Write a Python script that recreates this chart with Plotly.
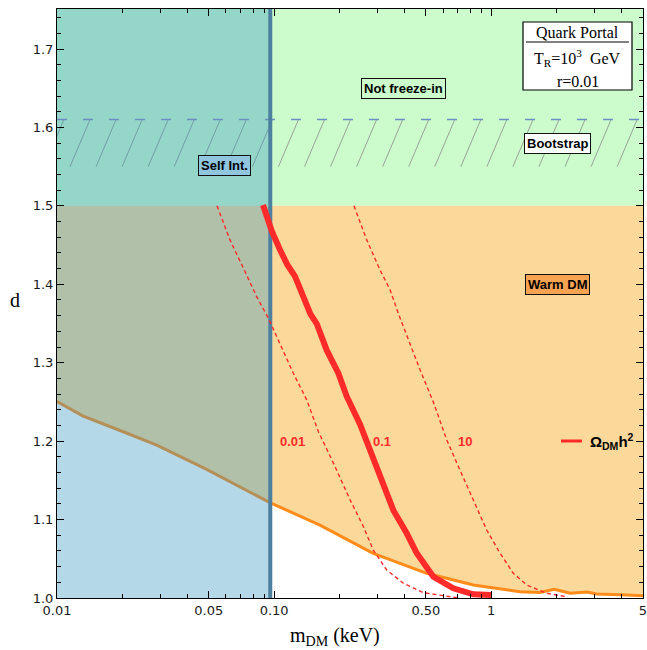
import numpy as np
import plotly.graph_objects as go

# ---------------- data ----------------
M_MIN, M_MAX = 0.01, 5.0
D_MIN, D_MAX = 1.0, 1.751
D_FREEZE = 1.5          # freeze-in bound
M_SELF = 0.096          # self-interaction bound (keV)
D_BOOT_LO, D_BOOT_HI = 1.55, 1.61  # bootstrap band

# warm DM bound
warm_m = [0.01, 0.0132, 0.0202, 0.0288, 0.0489, 0.0956, 0.1626, 0.286, 0.505,
          0.827, 1.357, 1.68, 1.95, 2.31, 2.76, 3.06, 3.95, 5.0]
warm_d = [1.2504, 1.232, 1.212, 1.195, 1.164, 1.1216, 1.093, 1.057, 1.0315,
          1.0166, 1.008, 1.007, 1.011, 1.006, 1.0075, 1.005, 1.004, 1.003]

# relic abundance contours
om_01_m = [0.0889, 0.0975, 0.1064, 0.1150, 0.1248, 0.1388, 0.147, 0.157, 0.1747, 0.1976,
           0.216, 0.2486, 0.2766, 0.3127, 0.354, 0.408, 0.454, 0.5413, 0.669, 0.827, 1.005]
om_01_d = [1.501, 1.468, 1.444, 1.425, 1.41, 1.376, 1.362, 1.35, 1.316, 1.2866,
           1.257, 1.2215, 1.189, 1.1505, 1.112, 1.0825, 1.057, 1.027, 1.0124, 1.0047, 1.0038]

om_001_m = [0.0546, 0.0626, 0.0735, 0.0832, 0.094, 0.1064, 0.1226, 0.1413, 0.16,
            0.1875, 0.224, 0.2578, 0.2863, 0.33, 0.3935, 0.486, 0.624, 0.71]
om_001_d = [1.5, 1.4566, 1.416, 1.384, 1.357, 1.325, 1.2866, 1.2526, 1.212,
            1.172, 1.125, 1.091, 1.061, 1.0357, 1.0188, 1.0068, 1.0017, 1.0]

om_10_m = [0.2333, 0.267, 0.3077, 0.342, 0.373, 0.416, 0.47, 0.541, 0.624, 0.718,
           0.827, 0.953, 1.098, 1.264, 1.457, 1.8, 2.22]
om_10_d = [1.5, 1.4566, 1.418, 1.393, 1.363, 1.329, 1.291, 1.25, 1.2015, 1.163,
           1.125, 1.0867, 1.057, 1.0315, 1.0166, 1.006, 1.0017]

x_tickvals = [0.01, 0.05, 0.1, 0.5, 1, 5]
x_ticktext = ["0.01", "0.05", "0.10", "0.50", "1", "5"]
x_minor = [0.02, 0.03, 0.04, 0.06, 0.07, 0.08, 0.09, 0.2, 0.3, 0.4, 0.6, 0.7,
           0.8, 0.9, 2, 3, 4]
y_tickvals = [1.0, 1.1, 1.2, 1.3, 1.4, 1.5, 1.6, 1.7]
y_ticktext = ["1.0", "1.1", "1.2", "1.3", "1.4", "1.5", "1.6", "1.7"]
y_minor = [round(1.0 + 0.02 * i, 2) for i in range(38) if i % 5 != 0]

# ---------------- styles ----------------
GREEN = "#ccfccc"
ORANGE = "#fbd99b"
ORANGE_LINE = "#ff8c1a"
BLUE_OVER = "rgba(54,150,193,0.373)"
SELF_LINE = "#4d7f9e"
RED = "#ff2a2a"
SERIF = "Liberation Serif"
SANS = "Liberation Sans"

L, R, T, B = 57, 4, 9, 52
W, H = 647, 650
PW, PH = W - L - R, H - T - B


def px(xp):
    return (xp - L) / PW


def py(yp):
    return (H - B - yp) / PH


fig = go.Figure()

# Not freeze-in region
fig.add_trace(go.Scatter(x=[M_MIN, M_MAX, M_MAX, M_MIN], y=[D_FREEZE, D_FREEZE, D_MAX, D_MAX],
                         fill="toself", fillcolor=GREEN, mode="lines", line=dict(width=0),
                         hoverinfo="skip", showlegend=False))
# Warm DM region
fig.add_trace(go.Scatter(x=warm_m + [M_MAX, M_MIN], y=warm_d + [D_FREEZE, D_FREEZE],
                         fill="toself", fillcolor=ORANGE, mode="lines", line=dict(width=0),
                         hoverinfo="skip", showlegend=False))
fig.add_trace(go.Scatter(x=warm_m, y=warm_d, mode="lines",
                         line=dict(color=ORANGE_LINE, width=3), showlegend=False))

# bootstrap hatching
hx, hy = [], []
lg_step, lg_slant = 0.12, 0.092
for xb in np.arange(-2.3, 0.9, lg_step):
    hx += [10 ** xb, 10 ** (xb + lg_slant), None]
    hy += [D_BOOT_LO, D_BOOT_HI, None]
fig.add_trace(go.Scatter(x=hx, y=hy, mode="lines", line=dict(color="#8a8a8a", width=0.8),
                         hoverinfo="skip", showlegend=False))

# self interaction region
fig.add_trace(go.Scatter(x=[M_MIN, M_SELF, M_SELF, M_MIN], y=[D_MIN, D_MIN, D_MAX, D_MAX],
                         fill="toself", fillcolor=BLUE_OVER, mode="lines", line=dict(width=0),
                         hoverinfo="skip", showlegend=False))

# bootstrap dashed line
fig.add_trace(go.Scatter(x=[M_MIN, M_MAX], y=[D_BOOT_HI, D_BOOT_HI], mode="lines",
                         line=dict(color="#6b8fc4", width=1.5, dash="10px,16px"),
                         showlegend=False))
# self-interaction line
fig.add_trace(go.Scatter(x=[M_SELF, M_SELF], y=[D_MIN, D_MAX], mode="lines",
                         line=dict(color=SELF_LINE, width=4), showlegend=False))

# relic contours
for mm, dd in [(om_001_m, om_001_d), (om_10_m, om_10_d)]:
    fig.add_trace(go.Scatter(x=mm, y=dd, mode="lines",
                             line=dict(color=RED, width=1.4, dash="4px,3px"), showlegend=False))
fig.add_trace(go.Scatter(x=om_01_m, y=om_01_d, mode="lines",
                         line=dict(color=RED, width=6), showlegend=False))

ann = []


def box_label(text, xd, yd, bg):
    ann.append(dict(x=np.log10(xd), y=yd, xref="x", yref="y", text="<b>%s</b>" % text,
                    xanchor="center", yanchor="middle",
                    showarrow=False, font=dict(family=SANS, size=13, color="black"),
                    bgcolor=bg, bordercolor="#111", borderwidth=1, borderpad=2))


box_label("Not freeze-in", 0.393, 1.65, GREEN)
box_label("Bootstrap", 2.01, 1.58, "white")
box_label("Self Int.", 0.0588, 1.551, "#90c6de")
box_label("Warm DM", 2.01, 1.40, "#f7a352")

for txt, xd in [("0.01", 0.121), ("0.1", 0.314), ("10", 0.757)]:
    ann.append(dict(x=np.log10(xd), y=1.2, xref="x", yref="y", text="<b>%s</b>" % txt,
                    xanchor="center", yanchor="middle",
                    showarrow=False, font=dict(family=SANS, size=13, color=RED)))

# legend
ann.append(dict(x=px(588), y=py(441), xref="paper", yref="paper", xanchor="left",
                yanchor="middle",
                text="<b>Ω<sub>DM</sub>h<sup>2</sup></b>", showarrow=False,
                font=dict(family=SANS, size=15, color="black")))

# info box
for txt, yp in [("Quark Portal", 32.3), ("T<sub>R</sub>=10<sup>3</sup>  GeV", 58.3), ("r=0.01", 81.7)]:
    ann.append(dict(x=px(577.5), y=py(yp), xref="paper", yref="paper", text=txt,
                    xanchor="center", yanchor="middle",
                    showarrow=False, font=dict(family=SERIF, size=16, color="black")))

# axis titles
ann.append(dict(x=px(335), y=py(636), xref="paper", yref="paper",
                xanchor="center", yanchor="middle",
                text="m<sub>DM</sub> (keV)", showarrow=False,
                font=dict(family=SERIF, size=20, color="black")))
ann.append(dict(x=px(15), y=py(300), xref="paper", yref="paper", text="d",
                xanchor="center", yanchor="middle",
                showarrow=False, font=dict(family=SERIF, size=20, color="black")))

shapes = [
    dict(type="rect", xref="paper", yref="paper", x0=px(523), x1=px(632), y0=py(90), y1=py(22),
         line=dict(color="black", width=1.2), fillcolor="white", layer="above"),
    dict(type="line", xref="paper", yref="paper", x0=px(526), x1=px(629), y0=py(42), y1=py(42),
         line=dict(color="black", width=1), layer="above"),
    dict(type="line", xref="paper", yref="paper", x0=px(561), x1=px(582), y0=py(441), y1=py(441),
         line=dict(color=RED, width=3), layer="above"),
]

axis_common = dict(showgrid=False, zeroline=False, showline=True, linecolor="black", linewidth=1,
                   mirror="ticks", ticks="inside", tickcolor="black", ticklen=7, tickwidth=1,
                   ticklabeloverflow="allow", automargin=False,
                   tickfont=dict(family="DejaVu Sans", size=13, color="#1a1a1a"))

fig.update_layout(
    width=W, height=H,
    margin=dict(l=L, r=R, t=T, b=B, autoexpand=False),
    paper_bgcolor="white", plot_bgcolor="white",
    showlegend=False,
    annotations=ann, shapes=shapes,
    xaxis=dict(type="log", range=[np.log10(M_MIN) - 1e-6, np.log10(M_MAX) + 1e-6],
               tickmode="array", tickvals=x_tickvals, ticktext=x_ticktext,
               minor=dict(tickmode="array", tickvals=x_minor, ticks="inside", ticklen=4,
                          tickcolor="black", showgrid=False),
               **axis_common),
    yaxis=dict(range=[D_MIN, D_MAX], tickmode="array", tickvals=y_tickvals, ticktext=y_ticktext,
               minor=dict(tickmode="array", tickvals=y_minor, ticks="inside", ticklen=4,
                          tickcolor="black", showgrid=False),
               **axis_common),
)

fig.write_html("out.html")
